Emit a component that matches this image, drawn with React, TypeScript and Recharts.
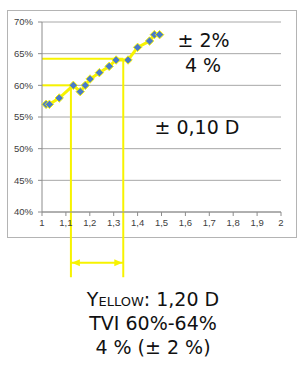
import React from 'react';
import { ComposedChart, Line, XAxis, YAxis, CartesianGrid, ReferenceLine, ReferenceDot } from 'recharts';

// measured density vs TVI points
const densities = [1.017, 1.031, 1.072, 1.131, 1.16, 1.181, 1.201, 1.24, 1.281, 1.31, 1.36, 1.4, 1.45, 1.47, 1.492];
const tvi = [0.57, 0.57, 0.58, 0.6, 0.59, 0.6, 0.61, 0.62, 0.63, 0.64, 0.64, 0.66, 0.67, 0.68, 0.68];

const xTicks = [1, 1.1, 1.2, 1.3, 1.4, 1.5, 1.6, 1.7, 1.8, 1.9, 2];
const yTicks = [0.4, 0.45, 0.5, 0.55, 0.6, 0.65, 0.7];

// yellow tolerance guides
const guideX = [1.121, 1.34];
const guideY = [0.6, 0.642];
const guideBottom = 0.297;
const arrowY = 0.32;

const notes = ['± 2%', '4 %', '± 0,10 D'];
const captionLines = ['TVI 60%-64%', '4 % (± 2 %)'];

const data = densities.map((d, i) => ({ d, tvi: tvi[i] }));

const YELLOW = '#f7f300';
const BLUE = '#4a7bc8';
const font = '"DejaVu Sans", sans-serif';

const Diamond = (props: any) => {
    const { cx, cy, index } = props;
    const s = 4.2;
    return (
        <polygon
            key={index}
            points={`${cx},${cy - s} ${cx + s},${cy} ${cx},${cy + s} ${cx - s},${cy}`}
            fill={BLUE}
            stroke={YELLOW}
            strokeWidth={1}
        />
    );
};

const ArrowHead = (dir: number) => (props: any) => {
    const { cx, cy } = props;
    return (
        <polygon
            points={`${cx},${cy} ${cx + dir * 8},${cy - 3.5} ${cx + dir * 8},${cy + 3.5}`}
            fill={YELLOW}
        />
    );
};

export default function App() {
    return (
        <div style={{ position: 'absolute', left: 0, top: 0, width: 300, height: 369, background: '#fff', fontFamily: font }}>
            <div style={{ position: 'absolute', left: 7, top: 10, width: 288, height: 226, border: '1px solid #b4b4b4' }} />
            <div style={{ position: 'absolute', left: 0, top: 0 }}>
                <ComposedChart width={300} height={369} data={data} margin={{ top: 22, right: 19, bottom: 137, left: 8 }}>
                    <CartesianGrid horizontal vertical={false} stroke="#a8a8a8" />
                    <XAxis
                        dataKey="d"
                        type="number"
                        domain={[1, 2]}
                        ticks={xTicks}
                        height={20}
                        interval={0}
                        tickSize={4}
                        tickMargin={3}
                        stroke="#8c8c8c"
                        tick={{ fill: '#404040', fontSize: 9.5, fontFamily: 'Liberation Sans, sans-serif' }}
                        tickFormatter={(v: number) => String(v).replace('.', ',')}
                    />
                    <YAxis
                        type="number"
                        domain={[0.4, 0.7]}
                        ticks={yTicks}
                        width={34}
                        interval={0}
                        tickSize={4}
                        tickMargin={5}
                        stroke="#8c8c8c"
                        tick={{ fill: '#404040', fontSize: 9.5, fontFamily: 'Liberation Sans, sans-serif' }}
                        tickFormatter={(v: number) => `${Math.round(v * 100)}%`}
                    />
                    <ReferenceLine segment={[{ x: 1, y: guideY[0] }, { x: guideX[0], y: guideY[0] }]} stroke={YELLOW} strokeWidth={2} ifOverflow="visible" />
                    <ReferenceLine segment={[{ x: 1, y: guideY[1] }, { x: guideX[1], y: guideY[1] }]} stroke={YELLOW} strokeWidth={2} ifOverflow="visible" />
                    <ReferenceLine segment={[{ x: guideX[0], y: guideY[0] }, { x: guideX[0], y: guideBottom }]} stroke={YELLOW} strokeWidth={2} ifOverflow="visible" />
                    <ReferenceLine segment={[{ x: guideX[1], y: guideY[1] }, { x: guideX[1], y: guideBottom }]} stroke={YELLOW} strokeWidth={2} ifOverflow="visible" />
                    <ReferenceLine segment={[{ x: guideX[0], y: arrowY }, { x: guideX[1], y: arrowY }]} stroke={YELLOW} strokeWidth={2} ifOverflow="visible" />
                    <ReferenceDot x={guideX[0] + 0.004} y={arrowY} ifOverflow="visible" shape={ArrowHead(1)} />
                    <ReferenceDot x={guideX[1] - 0.004} y={arrowY} ifOverflow="visible" shape={ArrowHead(-1)} />
                    <Line
                        dataKey="tvi"
                        type="linear"
                        stroke={YELLOW}
                        strokeWidth={3}
                        dot={Diamond}
                        activeDot={false}
                        isAnimationActive={false}
                    />
                </ComposedChart>
            </div>
            <div style={{ position: 'absolute', left: 203.5, top: 29, transform: 'translateX(-50%)', fontSize: 19, whiteSpace: 'nowrap', color: '#111' }}>{notes[0]}</div>
            <div style={{ position: 'absolute', left: 203, top: 54, transform: 'translateX(-50%)', fontSize: 19, whiteSpace: 'nowrap', color: '#111' }}>{notes[1]}</div>
            <div style={{ position: 'absolute', left: 197, top: 116, transform: 'translateX(-50%)', fontSize: 19, whiteSpace: 'nowrap', color: '#111' }}>{notes[2]}</div>
            <div style={{ position: 'absolute', left: 153, top: 287, transform: 'translateX(-50%)', fontSize: 19, lineHeight: '24px', textAlign: 'center', whiteSpace: 'nowrap', color: '#111' }}>
                <div><span style={{ fontVariant: 'small-caps' }}>Yellow</span>: 1,20 D</div>
                <div>{captionLines[0]}</div>
                <div>{captionLines[1]}</div>
            </div>
        </div>
    );
}
